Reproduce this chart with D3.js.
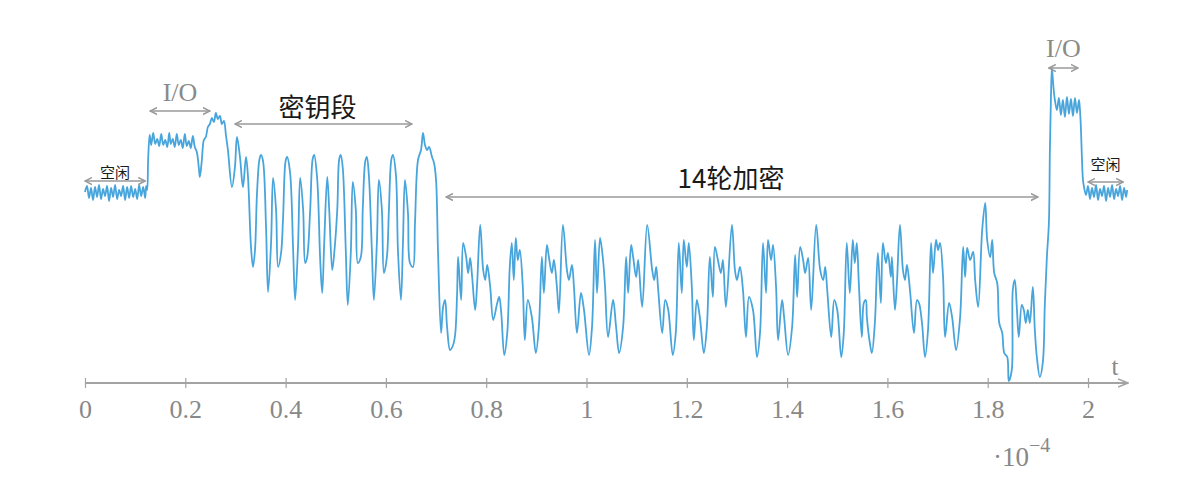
<!DOCTYPE html>
<html>
<head>
<meta charset="utf-8">
<script src="https://cdn.jsdelivr.net/npm/d3@7"></script>
<style>
  body { margin: 0; background: #fff; }
  svg { display: block; }
</style>
</head>
<body>
<div id="graph"></div>
<script>
// time in µs (axis labels are in units of 1e-4 s), power in arbitrary units
const idleStart = [[0,191],[0.4,197],[0.8,185],[1.2,195],[1.6,183],[2.0,196],[2.4,186],[2.8,198],[3.2,184],[3.6,194],[4.0,187],[4.4,197],[4.8,182],[5.2,195],[5.6,186],[6.0,198],[6.4,184],[6.8,193],[7.2,187],[7.6,197],[8.0,183],[8.4,196],[8.8,185],[9.2,197],[9.6,186],[10.0,194],[10.4,184],[10.8,198],[11.2,187],[11.6,196],[12.0,185],[12.2,197]];

const ioStart = [[12.4,193],[12.6,225],[12.9,248],[13.2,238],[13.6,250],[14.0,239],[14.4,244],[14.8,237],[15.2,249],[15.6,238],[16.0,243],[16.4,236],[16.8,250],[17.1,239],[17.5,244],[17.9,236],[18.3,249],[18.7,238],[19.1,243],[19.5,235],[19.9,249],[20.3,237],[20.7,242],[21.1,235],[21.5,247],[21.9,236],[22.3,231],[22.7,215],[22.9,206],[23.3,223],[23.7,243],[24.1,246],[24.5,256],[24.9,259],[25.3,265],[25.7,261],[26.1,270],[26.5,264],[26.9,267],[27.3,259],[27.7,262],[28.1,248]];

const keySegment = [[28.5,233],[29.3,196],[29.9,216],[30.3,246],[30.9,226],[31.5,196],[32.1,226],[32.5,206],[33.1,136],[33.5,116],[33.9,133],[34.3,190],[34.8,224],[35.1,228],[35.5,222],[36.1,156],[36.5,91],[37.1,140],[37.5,205],[38.1,173],[38.5,116],[39.1,130],[39.5,166],[40.0,222],[40.3,226],[40.9,210],[41.5,133],[41.9,83],[42.5,140],[42.9,205],[43.5,173],[43.9,120],[44.3,126],[44.9,173],[45.4,224],[45.7,228],[46.3,204],[46.9,123],[47.3,90],[47.7,140],[48.3,206],[48.7,173],[49.3,113],[49.7,130],[50.3,173],[50.7,224],[51.0,228],[51.4,215],[52.0,133],[52.4,78],[53.0,130],[53.4,201],[54.0,173],[54.4,120],[55.0,126],[55.4,176],[55.9,222],[56.2,226],[56.6,208],[57.2,133],[57.6,83],[58.2,140],[58.6,203],[59.2,173],[59.6,110],[60.2,126],[60.6,173],[61.1,224],[61.4,228],[62.0,208],[62.4,133],[63.0,83],[63.4,140],[63.8,203],[64.4,170],[64.8,120],[65.4,116],[65.8,160],[66.4,223],[67.0,233],[67.4,250],[67.8,238],[68.2,233],[68.6,236],[69.2,226],[69.6,220],[70.0,203]];

const rounds = [[70.4,130],[71.0,50],[71.4,76],[71.8,83],[72.2,56],[72.8,33],[73.4,38],[73.8,48],[74.2,90],[74.4,126],[75.0,83],[75.4,140],[76.0,126],[76.4,110],[76.8,125],[77.2,106],[77.8,73],[78.2,100],[78.8,158],[79.4,113],[79.8,103],[80.2,118],[80.8,96],[81.4,63],[82.2,80],[82.6,86],[83.0,70],[83.6,28],[84.2,50],[84.7,116],[85.1,140],[85.5,103],[85.9,145],[86.3,123],[86.7,133],[87.3,96],[87.7,43],[88.3,83],[89.1,66],[89.9,30],[90.5,56],[91.1,126],[91.5,90],[92.1,138],[92.5,126],[93.1,110],[93.5,123],[94.1,96],[94.5,70],[95.3,158],[96.1,113],[96.5,103],[97.1,118],[97.5,96],[98.1,50],[98.9,90],[99.5,73],[100.5,28],[101.1,56],[101.7,143],[102.1,90],[102.7,145],[103.3,123],[103.7,96],[104.3,46],[105.3,83],[105.9,56],[106.5,30],[107.3,56],[107.9,126],[108.3,90],[108.9,138],[109.3,126],[109.9,106],[110.3,123],[111.1,76],[112.1,158],[113.1,113],[113.5,103],[113.9,116],[114.3,93],[115.1,50],[115.7,83],[116.3,73],[117.2,28],[117.8,50],[118.4,140],[119.0,90],[119.4,143],[120.0,116],[120.4,140],[121.0,96],[121.4,43],[122.0,83],[122.6,66],[123.4,30],[124.0,56],[124.6,126],[125.2,86],[125.6,136],[126.2,123],[126.8,110],[127.2,123],[127.8,76],[129.0,158],[129.6,113],[130.0,103],[130.6,116],[131.2,93],[131.8,46],[132.4,86],[133.2,73],[134.0,26],[134.6,50],[135.2,140],[135.8,90],[136.2,143],[136.8,123],[137.2,138],[137.8,96],[138.2,43],[139.0,83],[139.4,66],[140.2,28],[141.0,56],[141.6,128],[142.0,86],[142.6,136],[143.2,123],[143.6,110],[144.2,125],[144.8,73],[145.8,158],[146.6,113],[147.2,103],[147.6,116],[148.0,93],[148.8,46],[149.4,83],[150.0,73],[150.8,26],[151.3,50],[151.9,140],[152.5,90],[153.1,143],[153.5,120],[153.9,140],[154.3,100],[154.9,46],[155.3,80],[155.7,83],[155.9,66],[156.5,40],[156.9,30],[157.5,60],[158.1,130],[158.7,80],[159.1,140],[159.7,120],[160.1,130],[160.7,106],[160.9,126],[161.5,73],[161.9,100],[162.5,158],[163.1,113],[163.5,103],[163.9,118],[164.5,93],[165.3,50],[165.9,83],[166.3,80],[166.9,60],[167.5,26],[168.1,53],[168.7,140],[169.1,110],[169.7,143],[170.1,133],[170.5,140],[171.1,106],[171.5,46],[172.3,80],[172.9,66],[173.7,33],[174.5,66],[175.1,136],[175.5,106],[175.9,135],[176.5,123],[177.1,131],[177.5,103],[178.1,76],[178.9,153],[179.5,180],[179.9,143],[180.5,126],[180.9,143],[181.3,110],[181.9,100],[182.3,60],[182.9,50],[183.3,30],[183.9,26],[184.2,2],[184.8,13],[185.0,93],[185.4,103],[185.8,76],[186.2,46],[186.8,78],[187.2,73],[187.6,60],[188.0,73],[188.4,60],[189.0,96],[189.4,53],[189.8,26],[190.4,6],[191.0,21],[191.4,80],[191.8,126],[192.2,160]];

const ioEnd = [[192.4,233],[192.6,283],[192.8,315],[193.0,303],[193.2,291],[193.4,283],[193.8,273],[194.2,285],[194.6,268],[195.0,283],[195.4,266],[195.8,286],[196.2,269],[196.6,284],[197.0,267],[197.4,285],[197.8,270],[198.2,283],[198.4,273],[198.6,253],[198.8,223],[199.0,203]];

const idleEnd = [[199.2,196],[199.6,188],[200.0,197],[200.4,184],[200.8,195],[201.2,186],[201.6,198],[202.0,183],[202.4,194],[202.8,187],[203.2,197],[203.6,182],[204.0,195],[204.4,186],[204.8,198],[205.2,184],[205.6,194],[206.0,187],[206.4,197],[206.8,183],[207.2,195],[207.6,186],[207.8,193]];

const tickValues = [0, 20, 40, 60, 80, 100, 120, 140, 160, 180, 200];
const phaseLabels = ["空闲", "I/O", "密钥段", "14轮加密", "I/O", "空闲"];
const phaseSpans = [[0, 12.0], [13.0, 24.9], [29.9, 65.2], [72.0, 190.0], [192.2, 198.0], [200.0, 207.0]];

const w = 1200;
const h = 486;
const axisY = 383;

const svg = d3.select("#graph").append("svg").attr("width", w).attr("height", h);

const x = d3.scaleLinear().domain([0, 200]).range([85, 1088]);
const y = d3.scaleLinear().domain([0, 320]).range([axisY, 63]);

const defs = svg.append("defs");
function marker(id, len, half, color) {
  defs
    .append("marker")
    .attr("id", id)
    .attr("viewBox", `0 ${-half - 1} ${len + 1} ${2 * half + 2}`)
    .attr("refX", len)
    .attr("refY", 0)
    .attr("markerUnits", "userSpaceOnUse")
    .attr("markerWidth", len + 1)
    .attr("markerHeight", 2 * half + 2)
    .attr("orient", "auto-start-reverse")
    .append("path")
    .attr("d", `M0,${-half}L${len},0L0,${half}`)
    .attr("fill", "none")
    .attr("stroke", color)
    .attr("stroke-width", 1.5);
}
marker("axis-arrow", 10, 4, "#a3a3a3");
marker("span-arrow", 7, 3.5, "#9a9a9a");

// time axis
svg
  .append("line")
  .attr("x1", x(0))
  .attr("x2", 1128)
  .attr("y1", axisY)
  .attr("y2", axisY)
  .attr("stroke", "#a3a3a3")
  .attr("stroke-width", 2)
  .attr("marker-end", "url(#axis-arrow)");

const axis = svg
  .append("g")
  .attr("transform", `translate(0,${axisY})`)
  .call(
    d3
      .axisBottom(x)
      .tickValues(tickValues)
      .tickFormat((d) => d3.format("~g")(d / 100))
  );
axis.select(".domain").remove();
axis.selectAll(".tick line").attr("y1", -5).attr("y2", 5).attr("stroke", "#a3a3a3").attr("stroke-width", 1.2);
axis
  .selectAll(".tick text")
  .attr("y", 35)
  .attr("dy", 0)
  .attr("fill", "#888")
  .attr("font-family", "'Liberation Serif', 'DejaVu Serif', serif")
  .attr("font-size", 26);

svg
  .append("text")
  .attr("x", 1115)
  .attr("y", 375)
  .attr("text-anchor", "middle")
  .attr("fill", "#888")
  .attr("font-family", "'Liberation Serif', serif")
  .attr("font-size", 25)
  .text("t");

const expo = svg
  .append("text")
  .attr("x", 993)
  .attr("y", 466)
  .attr("fill", "#888")
  .attr("font-family", "'Liberation Serif', serif")
  .attr("font-size", 27);
expo.append("tspan").text("·10");
expo.append("tspan").attr("dy", -14).attr("font-size", 20).text("−4");

// power trace
const trace = [].concat(idleStart, ioStart, keySegment, rounds, ioEnd, idleEnd);
const line = d3
  .line()
  .x((d) => x(d[0]))
  .y((d) => y(d[1]))
  .curve(d3.curveCatmullRom.alpha(0.5));

svg
  .append("path")
  .datum(trace)
  .attr("d", line)
  .attr("fill", "none")
  .attr("stroke", "#48a5dc")
  .attr("stroke-width", 1.8)
  .attr("stroke-linejoin", "round");

// phase annotations
const annoLayout = [
  { arrowY: 181, textY: 171, size: 15, dx: 0, serif: false },
  { arrowY: 111, textY: 92, size: 26, dx: 0, serif: true },
  { arrowY: 124, textY: 105, size: 26, dx: -6, serif: false },
  { arrowY: 197, textY: 176, size: 26, dx: -11, serif: false },
  { arrowY: 68, textY: 48, size: 26, dx: 0, serif: true },
  { arrowY: 182, textY: 163, size: 15, dx: 0, serif: false },
];

const anno = svg
  .selectAll("g.phase")
  .data(phaseLabels)
  .enter()
  .append("g")
  .attr("class", "phase");

anno
  .append("line")
  .attr("x1", (d, i) => x(phaseSpans[i][0]))
  .attr("x2", (d, i) => x(phaseSpans[i][1]))
  .attr("y1", (d, i) => annoLayout[i].arrowY)
  .attr("y2", (d, i) => annoLayout[i].arrowY)
  .attr("stroke", "#9a9a9a")
  .attr("stroke-width", 1.5)
  .attr("marker-start", "url(#span-arrow)")
  .attr("marker-end", "url(#span-arrow)");

anno
  .append("text")
  .attr("x", (d, i) => (x(phaseSpans[i][0]) + x(phaseSpans[i][1])) / 2 + annoLayout[i].dx)
  .attr("y", (d, i) => annoLayout[i].textY)
  .attr("text-anchor", "middle")
  .attr("dominant-baseline", "central")
  .attr("font-size", (d, i) => annoLayout[i].size)
  .attr("font-family", (d, i) => (annoLayout[i].serif ? "'Liberation Serif', serif" : "'Noto Sans CJK SC', 'Noto Sans', sans-serif"))
  .attr("fill", (d, i) => (annoLayout[i].serif ? "#8a8a8a" : "#1a1a1a"))
  .text((d) => d);
</script>
</body>
</html>
